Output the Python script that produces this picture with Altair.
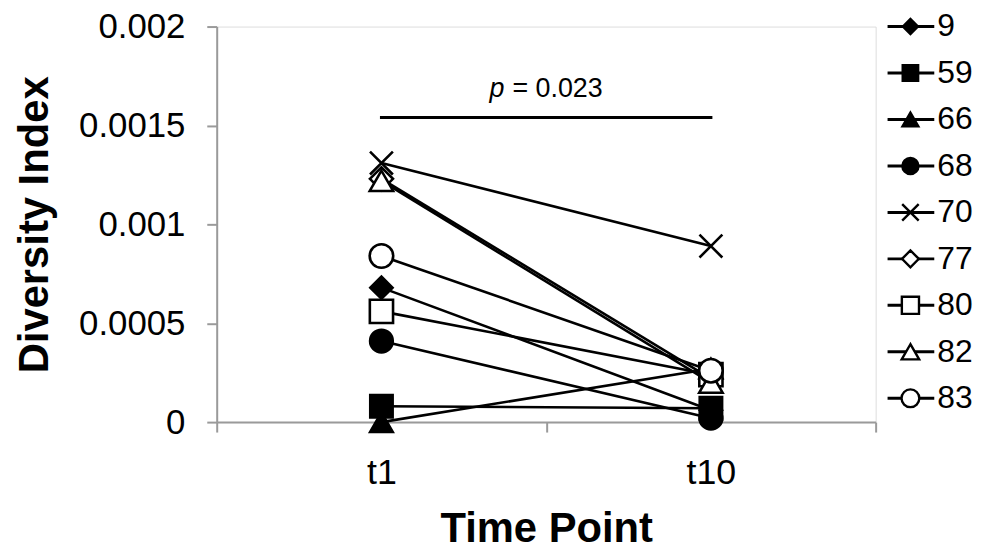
import altair as alt
import pandas as pd

# ---- data ----
times = ["t1", "t10"]
ids = ["9", "59", "66", "68", "70", "77", "80", "82", "83"]
t1_vals = [0.00068, 0.00008, 0.0, 0.00041, 0.00131, 0.00123, 0.00056, 0.00122, 0.00084]
t10_vals = [0.00006, 0.00007, 0.00027, 0.00002, 0.00089, 0.00022, 0.00024, 0.00020, 0.00026]
y_ticks = [0, 0.0005, 0.001, 0.0015, 0.002]
bracket_y = 0.00154
p_italic = "p"
p_rest = "= 0.023"

# ---- styles ----
X_PATH = "M-1,-1L1,1M-1,1L1,-1"
shapes = ["diamond", "square", "triangle-up", "circle", X_PATH,
          "diamond", "square", "triangle-up", "circle"]
fills = ["black", "black", "black", "black", "transparent",
         "white", "white", "white", "white"]
sizes = [500, 560, 680, 600, 600, 500, 560, 680, 600]
legend_sizes = [230, 320, 380, 380, 330, 230, 300, 380, 330]
FONT = "Liberation Sans"
GRAY = "#9a9a9a"

rows = []
for i, sid in enumerate(ids):
    for t, v in zip(times, [t1_vals[i], t10_vals[i]]):
        rows.append({"id": sid, "time": t, "xpos": times.index(t) + 0.5, "value": v})
df = pd.DataFrame(rows)

bracket_df = pd.DataFrame([{"x": times.index(times[0]) + 0.5,
                            "x2": times.index(times[1]) + 0.5,
                            "y": bracket_y,
                            "xm": (times.index(times[0]) + times.index(times[1])) / 2 + 0.5,
                            "p": p_italic, "rest": p_rest}])
legend_df = pd.DataFrame({"id": ids})

label_expr = " : ".join(
    [f"datum.value == {k + 0.5} ? '{t}'" for k, t in enumerate(times)]) + " : ''"

x_enc = alt.X("xpos:Q",
              scale=alt.Scale(domain=[0, len(times)], nice=False, zero=False),
              axis=alt.Axis(values=[0, 0.5, 1, 1.5, 2], labelExpr=label_expr,
                            tickOpacity={"condition": {"test": "datum.value % 1 === 0", "value": 1}, "value": 0},
                            title="Time Point", titleFontSize=42, titleFontWeight="bold",
                            titleFont=FONT, titleColor="black", titlePadding=18,
                            labelFont=FONT, labelFontSize=36, labelColor="black",
                            labelPadding=24, tickSize=10, tickColor=GRAY, tickWidth=2,
                            domainColor=GRAY, domainWidth=2, grid=False))
y_scale = alt.Scale(domain=[0, 0.002], nice=False)
y_enc = alt.Y("value:Q", scale=y_scale,
              axis=alt.Axis(values=y_ticks, format="~g",
                            title="Diversity Index", titleFontSize=42, titleFontWeight="bold",
                            titleFont=FONT, titleColor="black", titlePadding=22,
                            labelFont=FONT, labelFontSize=35, labelColor="black",
                            labelPadding=22, tickSize=10, tickColor=GRAY, tickWidth=2,
                            domainColor=GRAY, domainWidth=2, grid=False))

base = alt.Chart(df)
lines = base.mark_line(color="black", strokeWidth=2.6).encode(
    x=x_enc, y=y_enc, detail="id:N", order="xpos:Q")
points = base.mark_point(filled=False, stroke="black", strokeWidth=2.6, opacity=1).encode(
    x=alt.X("xpos:Q", scale=alt.Scale(domain=[0, 2], nice=False, zero=False)),
    y=alt.Y("value:Q", scale=y_scale),
    shape=alt.Shape("id:N", scale=alt.Scale(domain=ids, range=shapes), legend=None),
    fill=alt.Fill("id:N", scale=alt.Scale(domain=ids, range=fills), legend=None),
    size=alt.Size("id:N", scale=alt.Scale(domain=ids, range=sizes), legend=None),
)

bracket = alt.Chart(bracket_df).mark_rule(color="black", strokeWidth=3, strokeCap="square").encode(
    x="x:Q", x2="x2:Q", y=alt.Y("y:Q", scale=y_scale))
p_text1 = alt.Chart(bracket_df).mark_text(font=FONT, fontSize=27, fontStyle="italic",
                                          align="right", baseline="middle", dx=-42, dy=-29,
                                          color="black").encode(
    x="xm:Q", y=alt.Y("y:Q", scale=y_scale), text="p:N")
p_text2 = alt.Chart(bracket_df).mark_text(font=FONT, fontSize=27,
                                          align="left", baseline="middle", dx=-34, dy=-29,
                                          color="black").encode(
    x="xm:Q", y=alt.Y("y:Q", scale=y_scale), text="rest:N")

main = alt.layer(lines, points, bracket, p_text1, p_text2)

leg_y = alt.Y("id:N", scale=alt.Scale(type="point", domain=ids, range=[0, 374], padding=0), axis=None)
leg_base = alt.Chart(legend_df)
leg_rule = leg_base.mark_rule(color="black", strokeWidth=3).encode(
    x=alt.value(675), x2=alt.value(722), y=leg_y)
leg_pts = leg_base.mark_point(filled=False, stroke="black", strokeWidth=2.4, opacity=1).encode(
    x=alt.value(698), y=leg_y,
    shape=alt.Shape("id:N", scale=alt.Scale(domain=ids, range=shapes), legend=None),
    fill=alt.Fill("id:N", scale=alt.Scale(domain=ids, range=fills), legend=None),
    size=alt.Size("id:N", scale=alt.Scale(domain=ids, range=legend_sizes), legend=None),
)
leg_text = leg_base.mark_text(font=FONT, fontSize=32, align="left", baseline="middle",
                              color="black").encode(
    x=alt.value(725), y=leg_y, text="id:N")
legend = alt.layer(leg_rule, leg_pts, leg_text)

chart = alt.layer(main, legend).resolve_scale(y="independent", size="independent").properties(
    width=663, height=398,
    autosize=alt.AutoSizeParams(type="none"),
    padding={"left": 210, "top": 17, "right": 104, "bottom": 127},
).configure_view(stroke=None).configure(background="white")

chart.save("out.html", embed_options={"renderer": "svg", "actions": False})
